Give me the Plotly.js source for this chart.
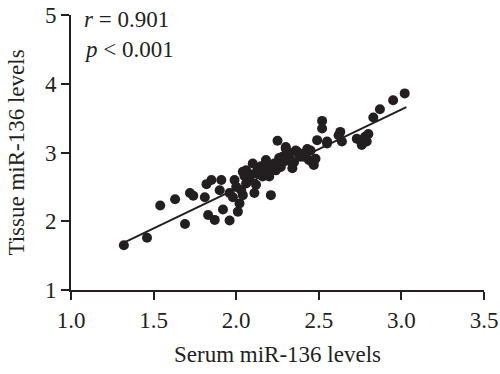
<!DOCTYPE html>
<html><head><meta charset="utf-8">
<script src="https://cdn.plot.ly/plotly-3.0.1.min.js"></script>
<style>html,body{margin:0;padding:0;background:#fff}#chart{width:500px;height:374px}</style>
</head><body><div id="chart"></div>
<script>
const serum = [1.32,1.46,1.54,1.63,1.69,1.72,1.74,1.81,1.83,1.87,1.92,1.96,2.01,2.02,2.04,1.82,1.90,1.96,
  1.85,1.91,1.99,2.06,2.04,2.10,2.18,2.21,2.11,2.25,2.30,2.36,2.28,2.32,2.39,2.27,2.34,2.47,2.45,2.49,2.48,
  2.52,2.52,2.55,2.63,2.64,3.02,2.95,2.87,2.83,2.80,2.78,2.75,2.73,2.76,2.79,2.62,2.55,2.44,2.41,2.37,2.30,
  2.23,2.20,2.17,2.20,2.12,2.16,2.12,2.08,2.00,2.03,2.14,2.26,2.35,2.42,1.98,2.06,2.09,2.24,2.38,2.31,2.43,2.15,
  2.07,2.13,2.19,2.22,2.29,2.33,2.40,2.46,2.05,2.26];
const tissue = [1.65,1.76,2.23,2.32,1.96,2.41,2.37,2.35,2.09,2.02,2.17,2.01,2.14,2.26,2.38,2.54,2.45,2.41,
  2.60,2.60,2.60,2.74,2.72,2.84,2.89,2.38,2.41,3.17,3.06,3.03,2.94,2.94,2.94,2.79,2.77,2.82,3.03,3.18,2.91,
  3.46,3.35,3.16,3.30,3.16,3.86,3.76,3.63,3.51,3.27,3.23,3.18,3.20,3.11,3.16,3.25,3.13,2.89,2.94,3.01,3.08,
  2.84,2.79,2.74,2.65,2.70,2.65,2.53,2.62,2.50,2.45,2.76,2.88,2.86,2.97,2.35,2.55,2.68,2.74,2.96,3.00,3.05,2.80,
  2.58,2.78,2.70,2.82,2.90,2.87,2.98,2.86,2.66,2.92];
const fitX = [1.33, 3.03];
const fitY = [1.70, 3.66];
const xTicks = [1.0,1.5,2.0,2.5,3.0,3.5];
const yTicks = [1,2,3,4,5];

const font = 'Liberation Serif, Times New Roman, serif';
const ink = '#231f20';
const fs = 23;
Plotly.newPlot('chart', [
  {x: serum, y: tissue, mode: 'markers', type: 'scatter',
   marker: {size: 10, color: ink}, hoverinfo: 'none'},
  {x: fitX, y: fitY, mode: 'lines', type: 'scatter', line: {color: ink, width: 2}, hoverinfo: 'none'}
], {
  width: 500, height: 374,
  margin: {l: 71, r: 16, t: 15, b: 84},
  showlegend: false,
  paper_bgcolor: '#fff', plot_bgcolor: '#fff',
  font: {family: font, color: ink, size: fs},
  xaxis: {range: [1, 3.5], tickvals: xTicks, ticktext: xTicks.map(v => v.toFixed(1)),
    showline: true, linecolor: ink, linewidth: 2, ticks: 'outside', ticklen: 8, tickwidth: 2, tickcolor: ink,
    showgrid: false, zeroline: false, tickfont: {size: fs},
    title: {text: 'Serum miR-136 levels', font: {size: fs}, standoff: 14}},
  yaxis: {range: [1, 5], tickvals: yTicks, ticktext: yTicks.map(String),
    showline: true, linecolor: ink, linewidth: 2, ticks: 'outside', ticklen: 8, tickwidth: 2, tickcolor: ink,
    showgrid: false, zeroline: false, tickfont: {size: fs},
    title: {text: 'Tissue miR-136 levels', font: {size: fs}, standoff: 14}},
  annotations: [
    {xref: 'paper', yref: 'paper', x: 0.026, y: 0.982, xanchor: 'left', yanchor: 'middle', showarrow: false,
     text: '<i>r</i> = 0.901', font: {size: fs}},
    {xref: 'paper', yref: 'paper', x: 0.026, y: 0.873, xanchor: 'left', yanchor: 'middle', showarrow: false,
     text: '<i>p</i> &lt; 0.001', font: {size: fs}}
  ]
}, {staticPlot: true});
</script></body></html>
